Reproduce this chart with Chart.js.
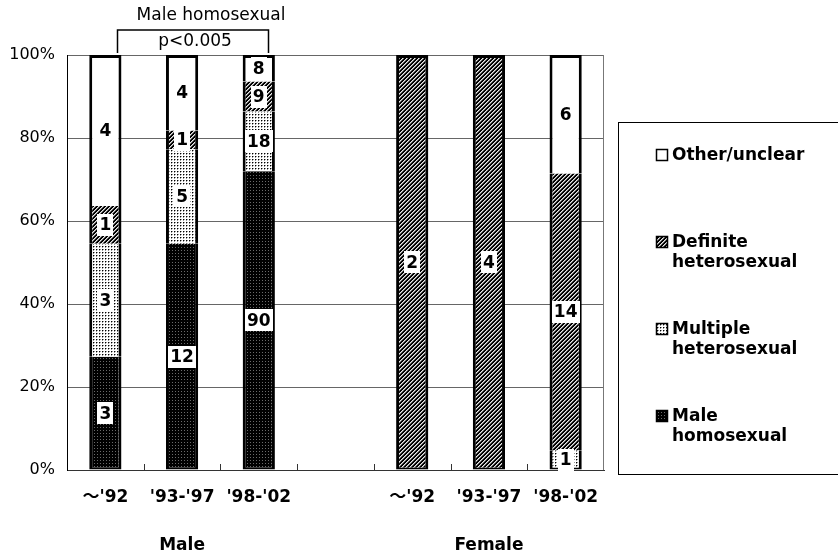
<!DOCTYPE html>
<html>
<head>
<meta charset="utf-8">
<script src="https://cdn.jsdelivr.net/npm/chart.js@4/dist/chart.umd.min.js"></script>
<style>
html,body{margin:0;padding:0;background:#fff;}
#wrap{width:838px;height:555px;position:relative;}
</style>
</head>
<body>
<div id="wrap"><canvas id="c" width="838" height="555"></canvas></div>
<script>
// ---- data ----
const categories = ["～'92", "'93-'97", "'98-'02", "", "～'92", "'93-'97", "'98-'02"];
const groupNames = ["Male", "Female"];
const groupCenterIndex = [1, 5];
const maleHomosexual = [3, 12, 90, 0, 0, 0, 0];
const multipleHetero = [3, 5, 18, 0, 0, 0, 1];
const definiteHetero = [1, 1, 9, 0, 2, 4, 14];
const otherUnclear = [4, 4, 8, 0, 0, 0, 6];
const seriesNames = [["Male", "homosexual"], ["Multiple", "heterosexual"], ["Definite", "heterosexual"], ["Other/unclear"]];
const annotationTitle = "Male homosexual";
const annotationP = "p<0.005";

const FONT = "'DejaVu Sans', 'Noto Sans CJK JP', sans-serif";
const canvas = document.getElementById('c');
const ctx0 = canvas.getContext('2d');

function makePattern(size, paint) {
  const t = document.createElement('canvas');
  t.width = t.height = size;
  const g = t.getContext('2d');
  paint(g, size);
  return ctx0.createPattern(t, 'repeat');
}
const patHomo = makePattern(3, (g) => {
  g.fillStyle = '#000'; g.fillRect(0, 0, 3, 3);
  g.fillStyle = '#6a6a6a'; g.fillRect(1, 1, 1, 1);
});
const patMulti = makePattern(3, (g) => {
  g.fillStyle = '#fff'; g.fillRect(0, 0, 3, 3);
  g.fillStyle = '#000'; g.fillRect(0, 0, 1, 1);
  g.fillStyle = '#999'; g.fillRect(1, 0, 1, 1); g.fillRect(0, 1, 1, 1);
});
const patDef = makePattern(4, (g) => {
  g.fillStyle = '#000'; g.fillRect(0, 0, 4, 4);
  for (let x = 0; x < 4; x++) for (let y = 0; y < 4; y++) {
    const r = (x + y) % 4;
    if (r === 0) { g.fillStyle = '#e8e8e8'; g.fillRect(x, y, 1, 1); }
    else if (r === 1) { g.fillStyle = '#888'; g.fillRect(x, y, 1, 1); }
  }
});

const counts = [maleHomosexual, multipleHetero, definiteHetero, otherUnclear];
const fills = [patHomo, patMulti, patDef, '#ffffff'];
const totals = categories.map((_, i) => counts.reduce((s, a) => s + a[i], 0));
const pct = counts.map(a => a.map((v, i) => (v > 0 && totals[i] > 0) ? v / totals[i] * 100 : null));

function topIndex(i) { let t = -1; counts.forEach((a, d) => { if (a[i] > 0) t = d; }); return t; }
function botIndex(i) { for (let d = 0; d < counts.length; d++) if (counts[d][i] > 0) return d; return -1; }

const datasets = counts.map((a, d) => ({
  label: seriesNames[d].join(' '),
  data: pct[d],
  backgroundColor: fills[d],
  borderColor: '#000',
  borderSkipped: false,
  borderWidth: (c) => ({
    left: 3, right: 3,
    top: topIndex(c.dataIndex) === d ? 3 : 0,
    bottom: botIndex(c.dataIndex) === d ? 2 : 0
  }),
  barPercentage: 0.42,
  categoryPercentage: 1.0
}));

const decor = {
  id: 'decor',
  beforeDatasetsDraw(chart) {
    const {ctx, chartArea: a, scales: {x}} = chart;
    ctx.save();
    ctx.strokeStyle = '#777'; ctx.lineWidth = 1;
    ctx.beginPath(); ctx.moveTo(Math.round(a.right) - 0.5, a.top); ctx.lineTo(Math.round(a.right) - 0.5, a.bottom); ctx.stroke();
    ctx.strokeStyle = '#333';
    for (let i = 1; i < categories.length; i++) {
      const px = Math.round((x.getPixelForValue(i - 1) + x.getPixelForValue(i)) / 2) + 0.5;
      ctx.beginPath(); ctx.moveTo(px, a.bottom); ctx.lineTo(px, a.bottom - 6); ctx.stroke();
    }
    ctx.restore();
  },
  afterDatasetsDraw(chart) {
    const {ctx, chartArea: a, scales: {x, y}} = chart;
    ctx.save();
    // value labels
    ctx.font = 'bold 17px ' + FONT;
    ctx.textAlign = 'center'; ctx.textBaseline = 'middle';
    counts.forEach((arr, d) => {
      const meta = chart.getDatasetMeta(d);
      meta.data.forEach((el, i) => {
        if (!(arr[i] > 0)) return;
        const cx = el.x, cy = (el.y + el.base) / 2;
        const txt = String(arr[i]);
        const w = ctx.measureText(txt).width + 4;
        ctx.fillStyle = '#fff';
        ctx.fillRect(Math.round(cx - w / 2), Math.round(cy - 11), Math.round(w), 22);
        ctx.fillStyle = '#000';
        ctx.fillText(txt, cx, cy + 1);
      });
    });
    // annotation bracket
    const x0 = Math.round(x.getPixelForValue(0) + 12) + 0.5;
    const x1 = Math.round(x.getPixelForValue(2) + 9) + 0.5;
    const yTop = y.getPixelForValue(100);
    ctx.strokeStyle = '#000'; ctx.lineWidth = 1.5;
    ctx.beginPath();
    ctx.moveTo(x0, yTop - 2); ctx.lineTo(x0, yTop - 25); ctx.lineTo(x1, yTop - 25); ctx.lineTo(x1, yTop - 2);
    ctx.stroke();
    ctx.fillStyle = '#000';
    ctx.font = '17px ' + FONT;
    ctx.fillText(annotationTitle, (x0 + x1) / 2 + 18, yTop - 39);
    ctx.fillText(annotationP, (x0 + x1) / 2 + 2, yTop - 13);
    // group labels
    ctx.font = 'bold 17px ' + FONT;
    groupNames.forEach((g, k) => {
      ctx.fillText(g, x.getPixelForValue(groupCenterIndex[k]), 546);
    });
    // legend
    ctx.strokeStyle = '#000'; ctx.lineWidth = 1;
    ctx.strokeRect(618.5, 122.5, 240, 352);
    const rows = [3, 2, 1, 0];
    const ys = [155, 242, 329, 416];
    ctx.textAlign = 'left';
    rows.forEach((d, k) => {
      const yy = ys[k];
      ctx.fillStyle = fills[d];
      ctx.fillRect(656, yy - 6, 12, 12);
      ctx.strokeStyle = '#000'; ctx.lineWidth = 1.5;
      ctx.strokeRect(656.5, yy - 5.5, 11, 11);
      ctx.fillStyle = '#000';
      seriesNames[d].forEach((line, j) => ctx.fillText(line, 672, yy + 1 + j * 20));
    });
    ctx.restore();
  }
};

new Chart(canvas, {
  type: 'bar',
  data: { labels: categories, datasets },
  options: {
    responsive: false,
    animation: false,
    devicePixelRatio: 1,
    layout: { padding: { top: 55, right: 234, left: 0, bottom: 0 } },
    plugins: { legend: { display: false }, tooltip: { enabled: false } },
    scales: {
      x: {
        stacked: true,
        grid: { display: false, drawTicks: false },
        border: { display: true, color: '#333', width: 1 },
        ticks: { color: '#000', padding: 17, font: { family: FONT, size: 17, weight: 'bold' } },
        afterFit: (s) => { s.height = 85; }
      },
      y: {
        stacked: true,
        min: 0, max: 100,
        grid: { color: '#666', lineWidth: 1, drawTicks: false },
        border: { display: true, color: '#000', width: 1 },
        ticks: { stepSize: 20, color: '#000', padding: 12, font: { family: FONT, size: 16 }, callback: (v) => v + '%' },
        afterFit: (s) => { s.width = 67; }
      }
    }
  },
  plugins: [decor]
});
</script>
</body>
</html>
